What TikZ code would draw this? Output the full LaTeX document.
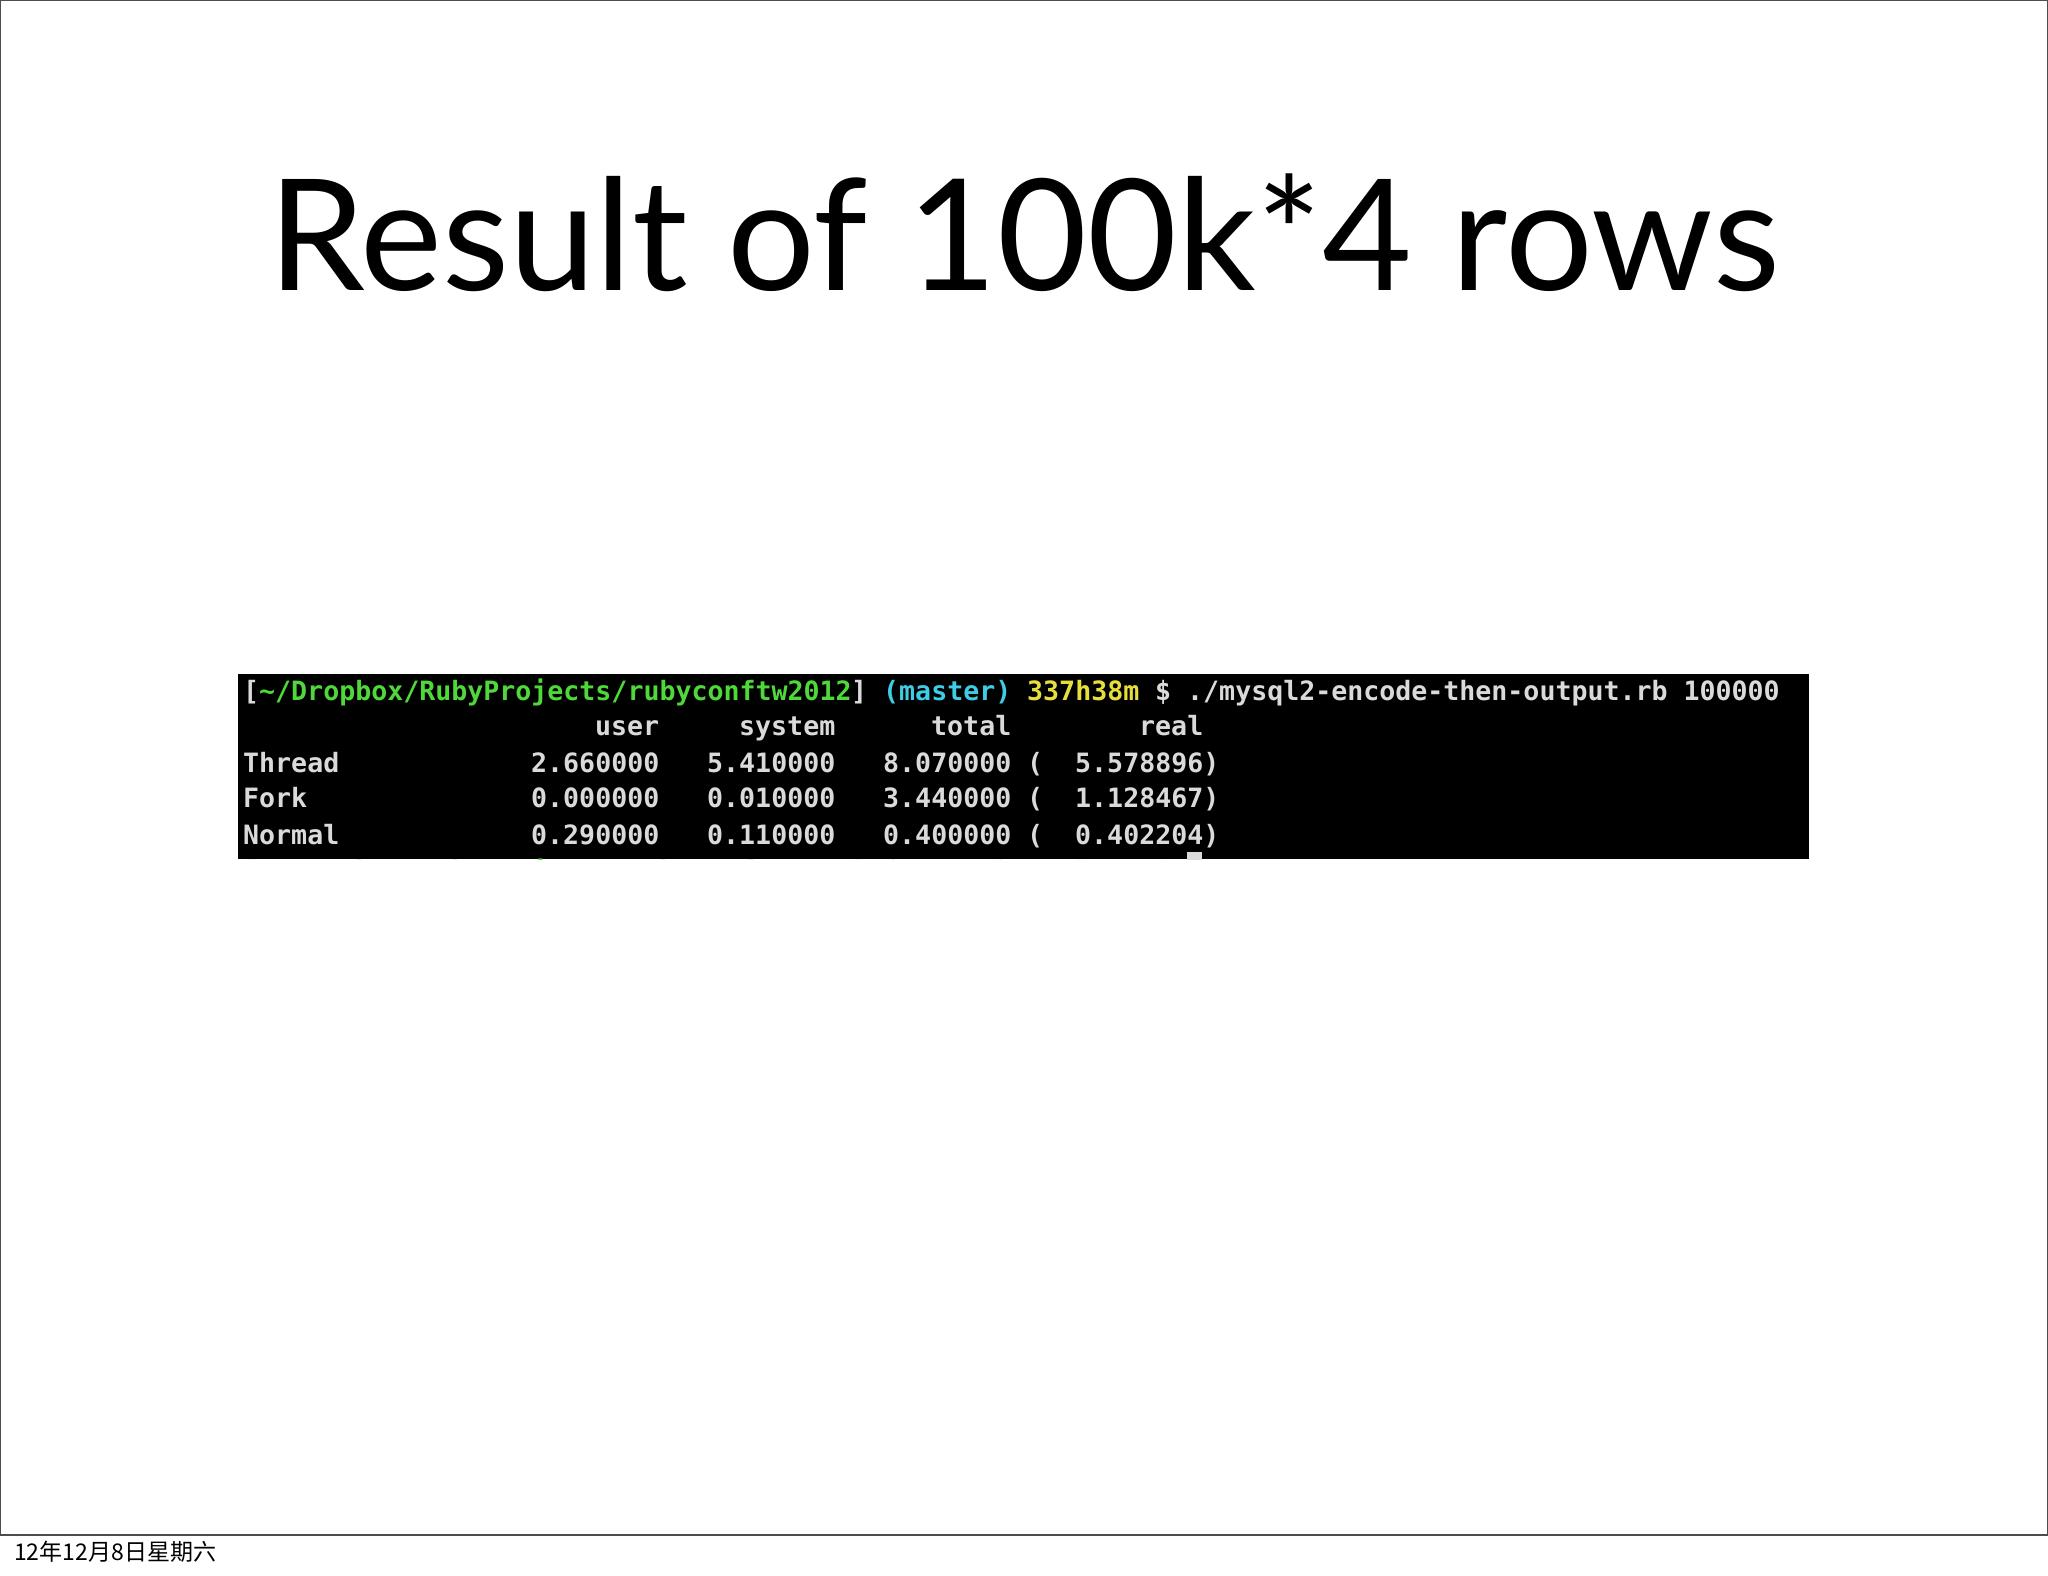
\documentclass[tikz,border=0pt]{standalone}
\usepackage{fontspec}
\setmainfont{Lato}
\newfontfamily\term{DejaVu Sans Mono}
\newfontfamily\cjk{Noto Sans CJK SC}
\definecolor{tgrey}{HTML}{DADADA}
\definecolor{tgreen}{HTML}{4FD83A}
\definecolor{tcyan}{HTML}{3FCDE6}
\definecolor{tyellow}{HTML}{E6DE3C}
\begin{document}
\begin{tikzpicture}[x=1pt,y=-1pt,
  tt/.style={anchor=base west,inner sep=0pt,font=\term\bfseries\fontsize{26.6}{30}\selectfont,text=tgrey}]
\useasboundingbox (0,0) rectangle (2048,1576);
\fill[white] (0,0) rectangle (2048,1576);
\draw[line width=1.2pt,black!70] (0.6,0.6) rectangle (2047.4,1535);
\node[anchor=base,inner sep=0pt,font=\fontsize{155}{170}\selectfont] (title) at (1024,290) {Result of 100k*4 rows};
\node[anchor=base west,inner sep=0pt,font=\cjk\fontsize{23}{24}\selectfont] (foot) at (14,1560) {12年12月8日星期六};
\fill[black] (238,674) rectangle (1809,859);
\begin{scope}
\clip (238,674) rectangle (1809,859);
\foreach \y/\n in {700/a,880/z}{
\node[tt] (p1\n) at (243,\y) {[};
\node[tt,text=tgreen] (p2\n) at (259,\y) {\string~/Dropbox/RubyProjects/rubyconftw2012};
\node[tt] (p3\n) at (851,\y) {]};
\node[tt,text=tcyan] (p4\n) at (883,\y) {(master)};
\node[tt,text=tyellow] (p5\n) at (1027,\y) {337h38m};
\node[tt] (p6\n) at (1155,\y) {\$};
}
\node[tt] (cmd) at (1187,700) {./mysql2-encode-then-output.rb 100000};
\fill[tgrey] (1187,852) rectangle (1202,880);
\end{scope}
\node[tt] (hu) at (595,735) {user};
\node[tt] (hs) at (739,735) {system};
\node[tt] (ht) at (931,735) {total};
\node[tt] (hr) at (1139,735) {real};
\foreach \y/\l/\a/\b/\c/\d in {772/Thread/2.660000/5.410000/8.070000/5.578896,
  807/Fork/0.000000/0.010000/3.440000/1.128467,
  844/Normal/0.290000/0.110000/0.400000/0.402204}{
\node[tt] at (243,\y) {\l};
\node[tt] at (531,\y) {\a};
\node[tt] at (707,\y) {\b};
\node[tt] at (883,\y) {\c};
\node[tt] at (1027,\y) {(};
\node[tt] at (1075,\y) {\d)};
}
\end{tikzpicture}
\end{document}
